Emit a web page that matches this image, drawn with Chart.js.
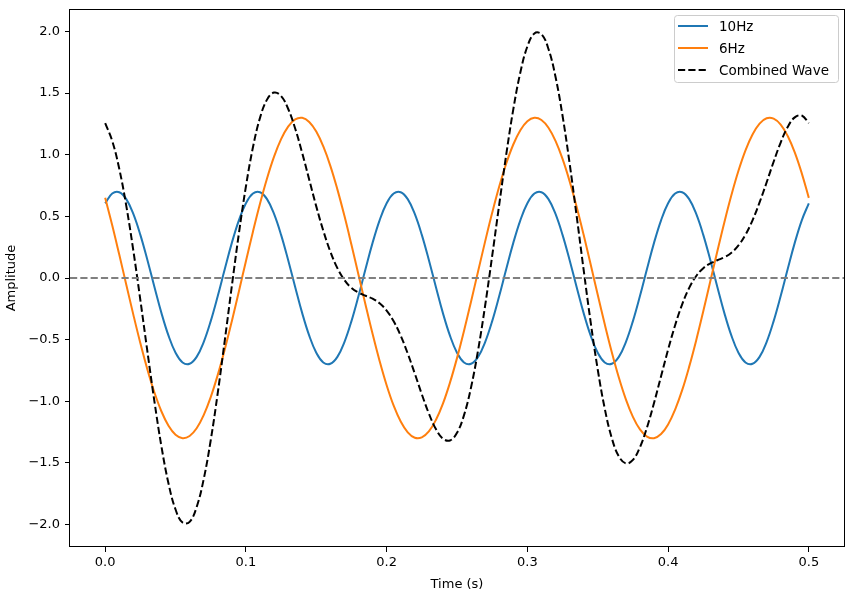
<!DOCTYPE html>
<html>
<head>
<meta charset="utf-8">
<script src="https://cdn.jsdelivr.net/npm/chart.js@4/dist/chart.umd.min.js"></script>
<style>
html,body{margin:0;padding:0;background:#fff;}
#c{display:block;}
</style>
</head>
<body>
<canvas id="c" width="852" height="597"></canvas>
<script>
const times = [0,0.005,0.01,0.015,0.02,0.025,0.03,0.035,0.04,0.045,
0.05,0.055,0.06,0.065,0.07,0.075,0.08,0.085,0.09,0.095,
0.1,0.105,0.11,0.115,0.12,0.125,0.13,0.135,0.14,0.145,
0.15,0.155,0.16,0.165,0.17,0.175,0.18,0.185,0.19,0.195,
0.2,0.205,0.21,0.215,0.22,0.225,0.23,0.235,0.24,0.245,
0.25,0.255,0.26,0.265,0.27,0.275,0.28,0.285,0.29,0.295,
0.3,0.305,0.31,0.315,0.32,0.325,0.33,0.335,0.34,0.345,
0.35,0.355,0.36,0.365,0.37,0.375,0.38,0.385,0.39,0.395,
0.4,0.405,0.41,0.415,0.42,0.425,0.43,0.435,0.44,0.445,
0.45,0.455,0.46,0.465,0.47,0.475,0.48,0.485,0.49,0.495,0.5];

const wave10 = [0.606,0.685,0.696,0.640,0.520,0.350,0.146,-0.073,-0.285,-0.468,
-0.606,-0.685,-0.696,-0.640,-0.520,-0.350,-0.146,0.073,0.285,0.468,
0.606,0.685,0.696,0.640,0.520,0.350,0.146,-0.073,-0.285,-0.468,
-0.606,-0.685,-0.696,-0.640,-0.520,-0.350,-0.146,0.073,0.285,0.468,
0.606,0.685,0.696,0.640,0.520,0.350,0.146,-0.073,-0.285,-0.468,
-0.606,-0.685,-0.696,-0.640,-0.520,-0.350,-0.146,0.073,0.285,0.468,
0.606,0.685,0.696,0.640,0.520,0.350,0.146,-0.073,-0.285,-0.468,
-0.606,-0.685,-0.696,-0.640,-0.520,-0.350,-0.146,0.073,0.285,0.468,
0.606,0.685,0.696,0.640,0.520,0.350,0.146,-0.073,-0.285,-0.468,
-0.606,-0.685,-0.696,-0.640,-0.520,-0.350,-0.146,0.073,0.285,0.468,0.606];

const wave6 = [0.650,0.428,0.190,-0.054,-0.297,-0.529,-0.742,-0.929,-1.083,-1.199,
-1.272,-1.300,-1.282,-1.219,-1.112,-0.966,-0.786,-0.578,-0.350,-0.109,
0.136,0.376,0.602,0.807,0.984,1.126,1.228,1.286,1.299,1.266,
1.188,1.067,0.910,0.719,0.504,0.270,0.027,-0.217,-0.453,-0.673,
-0.870,-1.036,-1.164,-1.252,-1.296,-1.293,-1.245,-1.152,-1.019,-0.849,
-0.650,-0.428,-0.190,0.054,0.297,0.529,0.742,0.929,1.083,1.199,
1.272,1.300,1.282,1.219,1.112,0.966,0.786,0.578,0.350,0.109,
-0.136,-0.376,-0.602,-0.807,-0.984,-1.126,-1.228,-1.286,-1.299,-1.266,
-1.188,-1.067,-0.910,-0.719,-0.504,-0.270,-0.027,0.217,0.453,0.673,
0.870,1.036,1.164,1.252,1.296,1.293,1.245,1.152,1.019,0.849,0.650];

const combined = [1.256,1.112,0.886,0.585,0.223,-0.179,-0.596,-1.002,-1.368,-1.667,
-1.878,-1.984,-1.978,-1.858,-1.632,-1.316,-0.932,-0.505,-0.065,0.360,
0.742,1.060,1.299,1.447,1.504,1.476,1.373,1.213,1.014,0.797,
0.581,0.383,0.214,0.080,-0.016,-0.080,-0.118,-0.144,-0.168,-0.205,
-0.264,-0.351,-0.468,-0.613,-0.775,-0.943,-1.099,-1.225,-1.303,-1.318,
-1.256,-1.112,-0.886,-0.585,-0.223,0.179,0.596,1.002,1.368,1.667,
1.878,1.984,1.978,1.858,1.632,1.316,0.932,0.505,0.065,-0.360,
-0.742,-1.060,-1.299,-1.447,-1.504,-1.476,-1.373,-1.213,-1.014,-0.797,
-0.581,-0.383,-0.214,-0.080,0.016,0.080,0.118,0.144,0.168,0.205,
0.264,0.351,0.468,0.613,0.775,0.943,1.099,1.225,1.303,1.318,1.256];

const xTicks = [0.0,0.1,0.2,0.3,0.4,0.5];
const yTicks = [-2.0,-1.5,-1.0,-0.5,0.0,0.5,1.0,1.5,2.0];
const seriesNames = ['10Hz','6Hz','Combined Wave'];

const FONT = 'DejaVu Sans';
Chart.defaults.font.family = FONT;
Chart.defaults.font.size = 13;
Chart.defaults.color = '#000';

function pts(arr){ return times.map((t,i)=>({x:t,y:arr[i]})); }
function fmt(v){ return (v<0?'\u2212':'') + Math.abs(v).toFixed(1); }

const DASH = [7.2,3.1];

const framePlugin = {
  id:'frame',
  afterDatasetsDraw(chart){
    const ctx = chart.ctx, a = chart.chartArea;
    const y0 = chart.scales.y.getPixelForValue(0);
    ctx.save();
    ctx.beginPath();
    ctx.rect(a.left,a.top,a.right-a.left,a.bottom-a.top);
    ctx.clip();
    ctx.strokeStyle = '#808080';
    ctx.lineWidth = 2;
    ctx.setLineDash(DASH);
    ctx.beginPath();
    ctx.moveTo(a.left,y0);
    ctx.lineTo(a.right,y0);
    ctx.stroke();
    ctx.restore();

    ctx.save();
    ctx.strokeStyle = '#000';
    ctx.lineWidth = 1;
    ctx.strokeRect(Math.round(a.left)-0.5,Math.round(a.top)+0.5,Math.round(a.right-a.left)+1,Math.round(a.bottom-a.top)-1);
    ctx.restore();
  },
  afterDraw(chart){
    const ctx = chart.ctx, a = chart.chartArea;
    const ds = chart.data.datasets;
    const bw = 164, bh = 67;
    const bx = a.right - 6 - bw, by = a.top + 6;
    ctx.save();
    ctx.fillStyle = 'rgba(255,255,255,0.8)';
    ctx.strokeStyle = '#cccccc';
    ctx.lineWidth = 1;
    ctx.beginPath();
    ctx.roundRect(bx+0.5,by+0.5,bw,bh,3);
    ctx.fill();
    ctx.stroke();
    ctx.font = '13.5px "' + FONT + '"';
    ctx.textBaseline = 'middle';
    ctx.textAlign = 'left';
    [0,1,2].forEach((i,row)=>{
      const d = ds[i];
      const yy = by + 11 + row*22;
      ctx.strokeStyle = d.borderColor;
      ctx.lineWidth = d.borderWidth;
      ctx.setLineDash(d.borderDash || []);
      ctx.beginPath();
      ctx.moveTo(bx+4, yy);
      ctx.lineTo(bx+34, yy);
      ctx.stroke();
      ctx.setLineDash([]);
      ctx.fillStyle = '#000';
      ctx.fillText(d.label, bx+45, yy+1);
    });
    ctx.restore();
  }
};

new Chart(document.getElementById('c'), {
  type:'line',
  data:{
    datasets:[
      {label:seriesNames[0], data:pts(wave10), borderColor:'#1f77b4', borderWidth:2, pointRadius:0, tension:0.4, order:3, fill:false},
      {label:seriesNames[1], data:pts(wave6), borderColor:'#ff7f0e', borderWidth:2, pointRadius:0, tension:0.4, order:2, fill:false},
      {label:seriesNames[2], data:pts(combined), borderColor:'#000000', borderWidth:2, borderDash:DASH, pointRadius:0, tension:0.4, order:1, fill:false}
    ]
  },
  options:{
    responsive:false,
    animation:false,
    events:[],
    layout:{padding:{top:9,right:8,left:0,bottom:0}},
    plugins:{legend:{display:false}, tooltip:{enabled:false}},
    scales:{
      x:{
        type:'linear', min:-0.025, max:0.525,
        afterBuildTicks(s){ s.ticks = xTicks.map(v=>({value:v})); },
        afterFit(s){ s.height = 50; s.paddingLeft = 0; s.paddingRight = 0; },
        ticks:{callback:(v)=>fmt(v), padding:3, maxRotation:0, autoSkip:false, font:{size:13}, color:'#000'},
        grid:{drawOnChartArea:false, drawTicks:true, tickLength:5, color:'#000', lineWidth:1},
        border:{display:false},
        title:{display:true, text:'Time (s)', font:{size:13}, color:'#000', padding:{top:0,bottom:5}}
      },
      y:{
        type:'linear', min:-2.182, max:2.182,
        afterBuildTicks(s){ s.ticks = yTicks.map(v=>({value:v})); },
        afterFit(s){ s.width = 70; s.paddingTop = 0; s.paddingBottom = 0; },
        ticks:{callback:(v)=>fmt(v), padding:5, autoSkip:false, font:{size:13}, color:'#000'},
        grid:{drawOnChartArea:false, drawTicks:true, tickLength:5, color:'#000', lineWidth:1},
        border:{display:false},
        title:{display:true, text:'Amplitude', font:{size:13}, color:'#000', padding:{top:4,bottom:0}}
      }
    }
  },
  plugins:[framePlugin]
});
</script>
</body>
</html>
